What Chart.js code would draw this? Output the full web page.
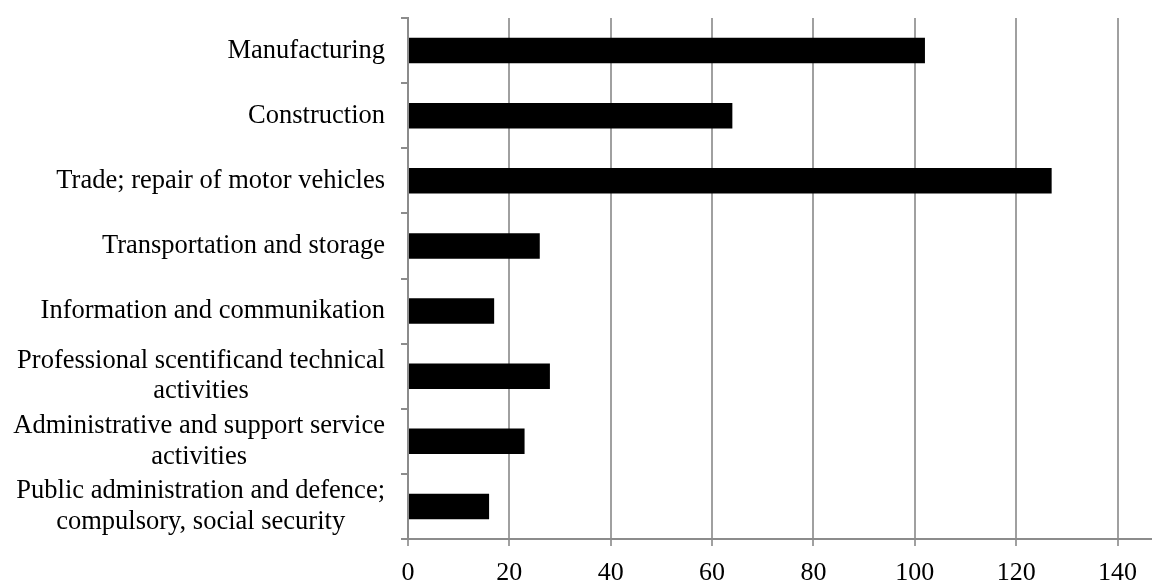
<!DOCTYPE html>
<html>
<head>
<meta charset="utf-8">
<script src="https://cdn.jsdelivr.net/npm/chart.js@4"></script>
<style>
  html, body { margin: 0; padding: 0; background: #fff; }
  #wrap { width: 1152px; height: 583px; position: relative; }
</style>
</head>
<body>
<div id="wrap"><canvas id="c"></canvas></div>
<script>
const categories = [
  ["Manufacturing"],
  ["Construction"],
  ["Trade; repair of motor vehicles"],
  ["Transportation and storage"],
  ["Information and communikation"],
  ["Professional scentificand technical", "activities"],
  ["Administrative and support service", "activities"],
  ["Public administration and defence;", "compulsory, social security"]
];
const values = [102, 64, 127, 26, 17, 28, 23, 16];
const xTicks = [0, 20, 40, 60, 80, 100, 120, 140];

const FONT = "'Liberation Serif', 'Times New Roman', serif";
const FONT_SIZE = 26.5;
const TICK_FONT_SIZE = 26;
const LINE_H = 30.5;
const AXIS_X = 408;

const labelPlugin = {
  id: 'catLabels',
  afterDraw(chart) {
    const ctx = chart.ctx;
    const y = chart.scales.y;
    ctx.save();
    ctx.font = FONT_SIZE + "px " + FONT;
    ctx.fillStyle = "#000";
    ctx.textAlign = "center";
    ctx.textBaseline = "middle";
    const rightEdge = AXIS_X - 23;
    categories.forEach((lines, i) => {
      const cy = y.getPixelForValue(i);
      const maxW = Math.max(...lines.map(l => ctx.measureText(l).width));
      const cx = rightEdge - maxW / 2;
      const top = cy - (lines.length - 1) * LINE_H / 2;
      lines.forEach((l, j) => ctx.fillText(l, cx, top + j * LINE_H));
    });
    ctx.restore();
  }
};

new Chart(document.getElementById('c'), {
  type: 'bar',
  data: {
    labels: categories.map(l => l.join(' ')),
    datasets: [{
      data: values,
      backgroundColor: '#000',
      borderWidth: 0,
      categoryPercentage: 1,
      barPercentage: 0.39
    }]
  },
  plugins: [labelPlugin],
  options: {
    indexAxis: 'y',
    responsive: true,
    maintainAspectRatio: false,
    animation: false,
    layout: { padding: { top: 18, right: 0, left: 0, bottom: 0 } },
    plugins: { legend: { display: false }, tooltip: { enabled: false } },
    scales: {
      x: {
        type: 'linear',
        min: 0,
        max: 146.8,
        afterBuildTicks(scale) {
          scale.ticks = xTicks.map(v => ({ value: v }));
        },
        afterFit(scale) { scale.height = 44; },
        ticks: {
          color: '#000',
          font: { family: FONT, size: TICK_FONT_SIZE },
          padding: 12,
          maxRotation: 0,
          autoSkip: false
        },
        grid: {
          color: '#a0a0a0',
          lineWidth: 2,
          tickLength: 7,
          drawTicks: true
        },
        border: { display: true, color: '#8c8c8c', width: 2 }
      },
      y: {
        type: 'category',
        offset: true,
        afterFit(scale) { scale.width = AXIS_X; },
        ticks: { display: false },
        grid: {
          offset: true,
          drawOnChartArea: false,
          drawTicks: true,
          tickLength: 7,
          color: '#8c8c8c',
          lineWidth: 2
        },
        border: { display: true, color: '#8c8c8c', width: 2 }
      }
    }
  }
});
</script>
</body>
</html>
